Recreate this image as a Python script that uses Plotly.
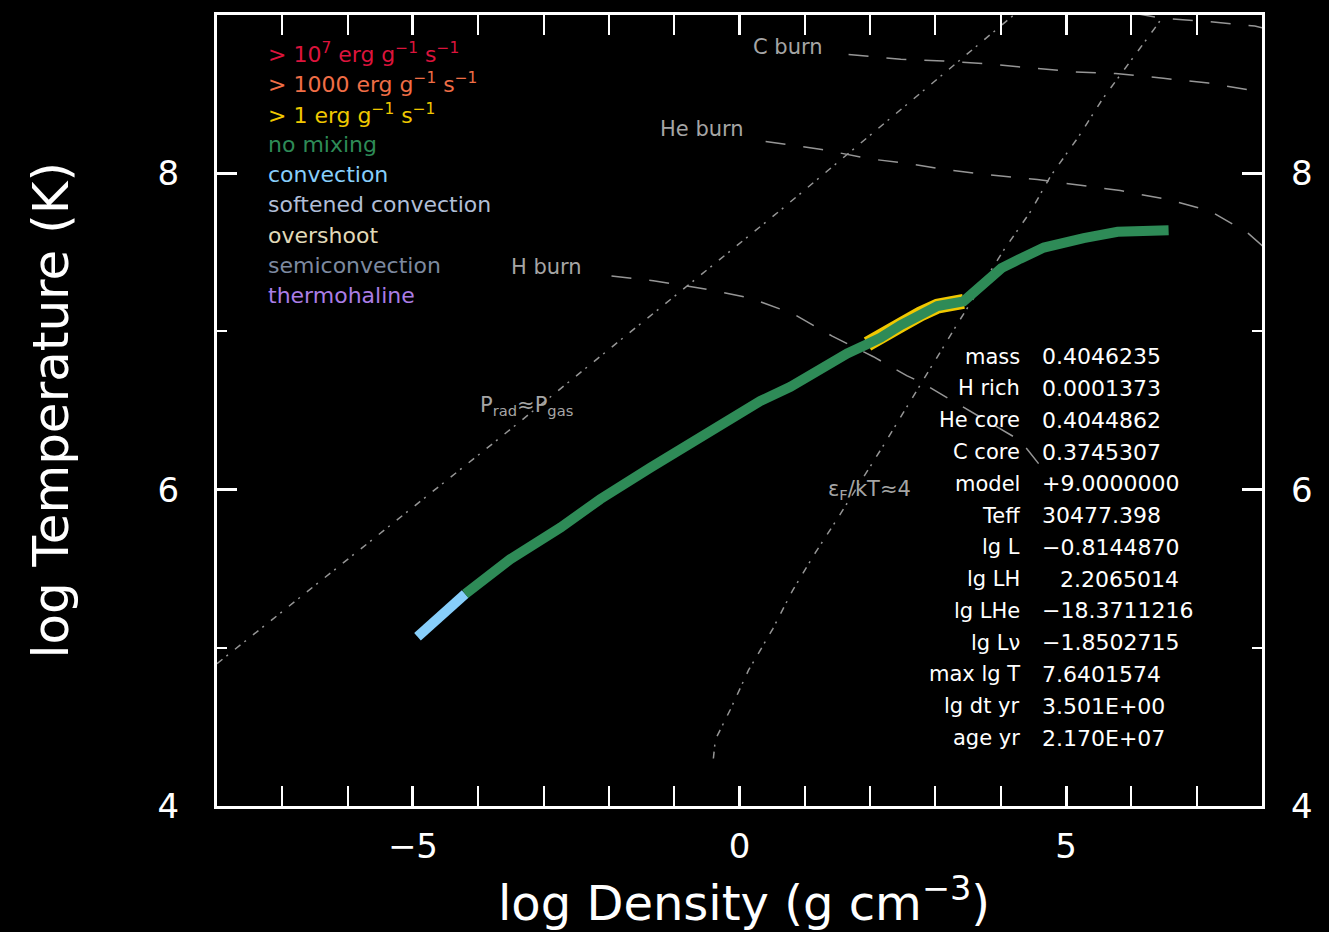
import plotly.graph_objects as go

# ---- profile track (log Rho, log T) from centre-out ----
track_rho = [-4.93, -4.58, -4.20, -3.51, -2.74, -2.13, -1.36, -0.90, -0.40, 0.32,
             0.78, 1.24, 1.65, 1.96, 2.16, 2.47, 2.77, 3.03, 3.43, 3.55,
             3.77, 4.01, 4.30, 4.66, 5.27, 5.79, 6.57]
track_T = [5.07, 5.21, 5.34, 5.56, 5.76, 5.94, 6.14, 6.25, 6.38, 6.56,
           6.65, 6.77, 6.86, 6.92, 6.96, 7.04, 7.11, 7.16, 7.19, 7.23,
           7.30, 7.40, 7.46, 7.53, 7.59, 7.63, 7.64]
# mixing type per point
track_mix = ["convection"] * 3 + ["no mixing"] * 24
# burning level per point
track_burn = ["none"] * 13 + ["> 1"] * 6 + ["none"] * 8

# ---- reference lines ----
hburn_rho = [-1.96, -1.32, -0.55, 0.17, 0.83, 1.42, 2.05, 2.56, 2.77, 4.30, 4.76]
hburn_T = [7.35, 7.32, 7.27, 7.21, 7.11, 6.97, 6.84, 6.72, 6.68, 6.31, 6.07]

heburn_rho = [0.40, 1.26, 2.01, 2.59, 3.20, 3.81, 4.56, 5.30, 5.83, 6.60, 7.21, 7.79, 8.01]
heburn_T = [8.20, 8.15, 8.09, 8.06, 8.02, 7.99, 7.96, 7.92, 7.89, 7.83, 7.76, 7.62, 7.54]

cburn_rho = [1.67, 2.47, 3.12, 3.81, 5.15, 5.76, 6.49, 7.18, 7.89, 8.00]
cburn_T = [8.75, 8.72, 8.71, 8.69, 8.64, 8.63, 8.60, 8.57, 8.52, 8.51]

oburn_rho = [6.06, 6.45, 7.14, 7.89, 8.00]
oburn_T = [9.01, 8.98, 8.96, 8.93, 8.92]

prad_rho = [-8.0, -3.66, 0.61, 4.20]
prad_T = [4.90, 6.33, 7.76, 9.00]

psi_rho = [-0.40, -0.37, -0.14, 0.14, 0.51, 0.81, 1.16, 1.52, 2.19, 2.62,
           3.00, 3.34, 4.04, 4.46, 4.76, 5.19, 5.56, 5.96, 6.40, 6.51]
psi_T = [4.30, 4.42, 4.61, 4.86, 5.12, 5.36, 5.60, 5.83, 6.27, 6.56,
         6.82, 7.05, 7.51, 7.76, 7.98, 8.23, 8.47, 8.69, 8.94, 9.01]

# ---- legend entries and colours ----
legend_labels = [
    "&gt; 10<sup>7</sup> erg g<sup>−1</sup> s<sup>−1</sup>",
    "&gt; 1000 erg g<sup>−1</sup> s<sup>−1</sup>",
    "&gt; 1 erg g<sup>−1</sup> s<sup>−1</sup>",
    "no mixing",
    "convection",
    "softened convection",
    "overshoot",
    "semiconvection",
    "thermohaline",
]
legend_colors = [
    "rgb(220,20,60)", "rgb(240,110,70)", "rgb(240,200,0)", "rgb(46,139,87)",
    "rgb(135,206,250)", "rgb(176,190,215)", "rgb(225,218,185)",
    "rgb(125,138,160)", "rgb(170,125,230)",
]
mix_colors = {"no mixing": "rgb(46,139,87)", "convection": "rgb(135,206,250)"}
burn_colors = {"> 1": "rgb(240,200,0)"}

# ---- info block ----
info_names = ["mass", "H rich", "He core", "C core", "model", "Teff", "lg L",
              "lg LH", "lg LHe", "lg Lν", "max lg T", "lg dt yr", "age yr"]
info_values = ["0.4046235", "0.0001373", "0.4044862", "0.3745307", "+9.0000000",
               "30477.398", "−0.8144870", "2.2065014", "−18.3711216", "−1.8502715",
               "7.6401574", "3.501E+00", "2.170E+07"]

FONT = "DejaVu Sans"
LINE_GRAY = "rgb(150,150,150)"
LABEL_GRAY = "rgb(165,165,165)"

fig = go.Figure()


def runs(flags):
    """Split indices into consecutive runs sharing the same value."""
    out, start = [], 0
    for i in range(1, len(flags) + 1):
        if i == len(flags) or flags[i] != flags[start]:
            out.append((flags[start], start, i - 1))
            start = i
    return out


# burn regions drawn wide underneath
for key, i0, i1 in runs(track_burn):
    if key in burn_colors:
        fig.add_trace(go.Scatter(x=track_rho[i0:i1 + 1], y=track_T[i0:i1 + 1], mode="lines",
                                 line=dict(color=burn_colors[key], width=15),
                                 hoverinfo="skip"))

# reference lines
for xs, ys, dash in [(hburn_rho, hburn_T, "20px,18px"), (heburn_rho, heburn_T, "20px,18px"),
                     (cburn_rho, cburn_T, "20px,18px"), (oburn_rho, oburn_T, "20px,18px"),
                     (prad_rho, prad_T, "7px,5px,2px,9px"), (psi_rho, psi_T, "7px,5px,2px,9px")]:
    fig.add_trace(go.Scatter(x=xs, y=ys, mode="lines",
                             line=dict(color=LINE_GRAY, width=1.5, dash=dash),
                             hoverinfo="skip"))

# mixing regions on top; each run joins the last point of the previous one
for key, i0, i1 in runs(track_mix):
    j0 = max(i0 - 1, 0)
    fig.add_trace(go.Scatter(x=track_rho[j0:i1 + 1], y=track_T[j0:i1 + 1], mode="lines",
                             line=dict(color=mix_colors[key], width=10),
                             hoverinfo="skip"))

# right-hand axis carrier
fig.add_trace(go.Scatter(x=[0], y=[6], yaxis="y2", mode="markers",
                         marker=dict(opacity=0), hoverinfo="skip"))

ann = []
# line labels
for txt, x, y in [("C burn", 0.17, 8.80), ("He burn", -1.25, 8.28), ("H burn", -3.53, 7.41),
                  ("P<sub>rad</sub>≈P<sub>gas</sub>", -4.0, 6.53),
                  ("ε<sub>F</sub>/kT≈4", 1.32, 6.0)]:
    ann.append(dict(x=x, y=y, xref="x", yref="y", text=txt, showarrow=False,
                    xanchor="left", yanchor="middle",
                    font=dict(family=FONT, size=21, color=LABEL_GRAY)))

# legend text
for k, (txt, col) in enumerate(zip(legend_labels, legend_colors)):
    py = 50 + 30.5 * k
    ann.append(dict(x=(266 - 217) / 1045, y=(806 - py) / 794, xref="paper", yref="paper",
                    text=txt, showarrow=False, xanchor="left", yanchor="middle",
                    font=dict(family=FONT, size=22, color=col)))

# info block
for k, (nm, val) in enumerate(zip(info_names, info_values)):
    py = 355 + 31.9 * k
    yp = (806 - py) / 794
    ann.append(dict(x=(1022 - 217) / 1045, y=yp, xref="paper", yref="paper", text=nm,
                    showarrow=False, xanchor="right", yanchor="middle",
                    font=dict(family=FONT, size=21, color="white")))
    vx = 1058 if nm == "lg LH" else 1040
    ann.append(dict(x=(vx - 217) / 1045, y=yp, xref="paper", yref="paper", text=val,
                    showarrow=False, xanchor="left", yanchor="middle",
                    font=dict(family=FONT, size=22, color="white")))

# axis titles
ann.append(dict(x=(744 - 217) / 1045, y=(806 - 900) / 794, xref="paper", yref="paper",
                text="log Density (g cm<sup>−3</sup>)", showarrow=False,
                xanchor="center", yanchor="middle",
                font=dict(family=FONT, size=48, color="white")))
ann.append(dict(x=(50 - 217) / 1045, y=0.5, xref="paper", yref="paper",
                text="log Temperature (K)", showarrow=False, textangle=-90,
                xanchor="center", yanchor="middle",
                font=dict(family=FONT, size=50, color="white")))

axis_common = dict(showgrid=False, zeroline=False, showline=True, linecolor="white",
                   linewidth=3, ticks="inside", ticklen=20, tickwidth=3, tickcolor="white",
                   tickfont=dict(family=FONT, size=34, color="white"))

fig.update_layout(
    width=1329, height=932,
    paper_bgcolor="black", plot_bgcolor="black",
    margin=dict(l=217, r=67, t=12, b=126),
    showlegend=False,
    annotations=ann,
    xaxis=dict(range=[-8, 8], dtick=5, tick0=0, mirror="allticks", ticklabelstandoff=8,
               minor=dict(dtick=1, tick0=0, ticks="inside", ticklen=10, tickwidth=2,
                          tickcolor="white", showgrid=False),
               **axis_common),
    yaxis=dict(range=[4, 9], dtick=2, tick0=0, mirror="allticks", ticklabelstandoff=28,
               minor=dict(dtick=1, tick0=0, ticks="inside", ticklen=10, tickwidth=2,
                          tickcolor="white", showgrid=False),
               **axis_common),
    yaxis2=dict(range=[4, 9], dtick=2, tick0=0, overlaying="y", side="right",
                showgrid=False, zeroline=False, showline=False, ticks="",
                ticklabelstandoff=28,
                tickfont=dict(family=FONT, size=34, color="white")),
)

fig.write_html("out.html")
